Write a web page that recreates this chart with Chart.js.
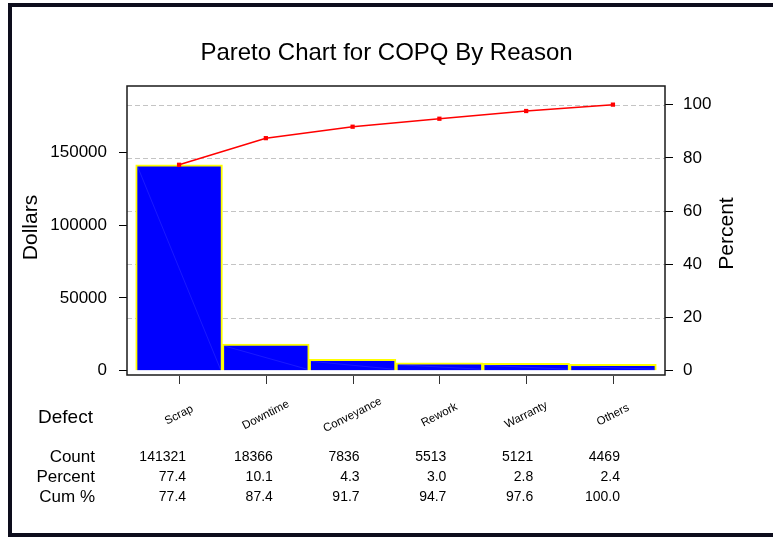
<!DOCTYPE html>
<html><head><meta charset="utf-8">
<script src="https://cdn.jsdelivr.net/npm/chart.js@4/dist/chart.umd.min.js"></script>
<style>
html,body{margin:0;padding:0;background:#fff;overflow:hidden;width:773px;height:537px;}
#frame{position:absolute;left:8px;top:3px;width:830px;height:534px;box-sizing:border-box;border:4px solid #0d0d1c;}
#c{position:absolute;left:0;top:0;}
</style></head><body>
<div id="frame"></div>
<canvas id="c" width="773" height="537"></canvas>
<script>
const categories = ['Scrap','Downtime','Conveyance','Rework','Warranty','Others'];
const counts = [141321,18366,7836,5513,5121,4469];
const percents = [77.4,10.1,4.3,3.0,2.8,2.4];
const cumPercents = [77.4,87.4,91.7,94.7,97.6,100.0];
const dollarTicks = [0,50000,100000,150000];
const percentTicks = [0,20,40,60,80,100];
const rowLabels = ['Count','Percent','Cum %'];

const FONT = "'Liberation Sans', Arial, Helvetica, sans-serif";
const total = counts.reduce((s,v)=>s+v,0);
const pMin = -1.6, pMax = 107;

const paretoPlugin = {
  id:'pareto',
  beforeDatasetsDraw(chart){
    const {ctx, chartArea:a, scales} = chart;
    const yR = scales.yR;
    ctx.save();
    ctx.strokeStyle='#c4c4c4'; ctx.lineWidth=1; ctx.setLineDash([5,3]);
    percentTicks.forEach(v=>{
      if(v===0) return;
      const y=Math.round(yR.getPixelForValue(v))+0.5;
      ctx.beginPath(); ctx.moveTo(a.left,y); ctx.lineTo(a.right,y); ctx.stroke();
    });
    ctx.restore();
  },
  afterDatasetDraw(chart,args){
    if(args.index!==0) return;
    const ctx=chart.ctx;
    ctx.save();
    ctx.strokeStyle='rgba(110,110,255,0.45)'; ctx.lineWidth=0.5;
    chart.getDatasetMeta(0).data.forEach(b=>{
      const p=b.getProps(['x','y','base','width'],true);
      ctx.beginPath(); ctx.moveTo(p.x-p.width/2+2,p.y+2); ctx.lineTo(p.x+p.width/2-2,p.base-1); ctx.stroke();
    });
    ctx.restore();
  },
  afterDraw(chart){
    const {ctx, chartArea:a, scales} = chart;
    const xs = scales.x;
    ctx.save();
    ctx.strokeStyle='#1a1a1a'; ctx.lineWidth=1.5;
    ctx.strokeRect(a.left,a.top,a.right-a.left,a.bottom-a.top);
    ctx.strokeStyle='#333'; ctx.lineWidth=1;
    categories.forEach((c,i)=>{
      const x=Math.round(xs.getPixelForValue(i))+0.5;
      ctx.beginPath(); ctx.moveTo(x,a.bottom+1); ctx.lineTo(x,a.bottom+9); ctx.stroke();
    });
    ctx.fillStyle='#000';
    ctx.font='11.5px '+FONT; ctx.textAlign='center'; ctx.textBaseline='middle';
    categories.forEach((c,i)=>{
      const x=xs.getPixelForValue(i);
      ctx.save(); ctx.translate(x,a.bottom+40); ctx.rotate(-27*Math.PI/180);
      ctx.fillText(c,0,0); ctx.restore();
    });
    const mid=(a.top+a.bottom)/2;
    ctx.font='21px '+FONT;
    ctx.save(); ctx.translate(a.left-95.5,mid-3); ctx.rotate(-Math.PI/2); ctx.fillText('Dollars',0,0); ctx.restore();
    ctx.save(); ctx.translate(a.right+62,mid+3); ctx.rotate(-Math.PI/2); ctx.fillText('Percent',0,0); ctx.restore();
    ctx.textBaseline='middle';
    ctx.font='19px '+FONT; ctx.textAlign='left';
    ctx.fillText('Defect',a.left-89,a.bottom+43);
    ctx.font='17px '+FONT; ctx.textAlign='right';
    rowLabels.forEach((r,k)=>ctx.fillText(r,a.left-32,a.bottom+82+20*k));
    ctx.font='14px '+FONT;
    const rows=[counts.map(v=>String(v)),percents.map(v=>v.toFixed(1)),cumPercents.map(v=>v.toFixed(1))];
    rows.forEach((row,k)=>{
      row.forEach((t,i)=>ctx.fillText(t,xs.getPixelForValue(i)+7,a.bottom+82+20*k));
    });
    ctx.restore();
  }
};

new Chart(document.getElementById('c'), {
  type:'bar',
  data:{
    datasets:[
      {type:'bar', data:counts.map((v,i)=>({x:i,y:v})), backgroundColor:'#0000ff', borderColor:'#ffff00', borderWidth:2,
       barPercentage:1, categoryPercentage:1, xAxisID:'x', yAxisID:'y', order:1},
      {type:'line', data:cumPercents.map((v,i)=>({x:i,y:v})), borderColor:'#ff0000', borderWidth:1.5, pointStyle:'rect',
       pointRadius:3, pointBackgroundColor:'#ff0000', pointBorderColor:'#ff0000', pointBorderWidth:0, tension:0,
       xAxisID:'x', yAxisID:'yR', order:0}
    ]
  },
  options:{
    responsive:false, animation:false, devicePixelRatio:1,
    layout:{padding:{left:0,right:0,top:0,bottom:162}},
    plugins:{
      legend:{display:false}, tooltip:{enabled:false},
      title:{display:true, text:'Pareto Chart for COPQ By Reason', color:'#000',
        font:{family:FONT,size:24,weight:'normal',lineHeight:1.2}, padding:{top:38.6,bottom:18.6}}
    },
    scales:{
      x:{type:'linear', display:false, offset:false, min:-0.6, max:5.6,
        afterBuildTicks:s=>{s.ticks=categories.map((c,i)=>({value:i}));}},
      y:{type:'linear', position:'left', min:total*pMin/100, max:total*pMax/100,
        afterBuildTicks:s=>{s.ticks=dollarTicks.map(v=>({value:v}));},
        afterFit:s=>{s.width=127;},
        grid:{drawOnChartArea:false, drawTicks:true, tickLength:8, color:'#000', tickColor:'#000'},
        border:{display:false},
        ticks:{padding:12, color:'#000', font:{family:FONT,size:17}, callback:v=>String(v)}},
      yR:{type:'linear', position:'right', min:pMin, max:pMax,
        afterBuildTicks:s=>{s.ticks=percentTicks.map(v=>({value:v}));},
        afterFit:s=>{s.width=108;},
        grid:{drawOnChartArea:false, drawTicks:true, tickLength:8, color:'#000', tickColor:'#000'},
        border:{display:false},
        ticks:{padding:10, color:'#000', font:{family:FONT,size:17}, callback:v=>String(v)}}
    }
  },
  plugins:[paretoPlugin]
});
</script>
</body></html>
